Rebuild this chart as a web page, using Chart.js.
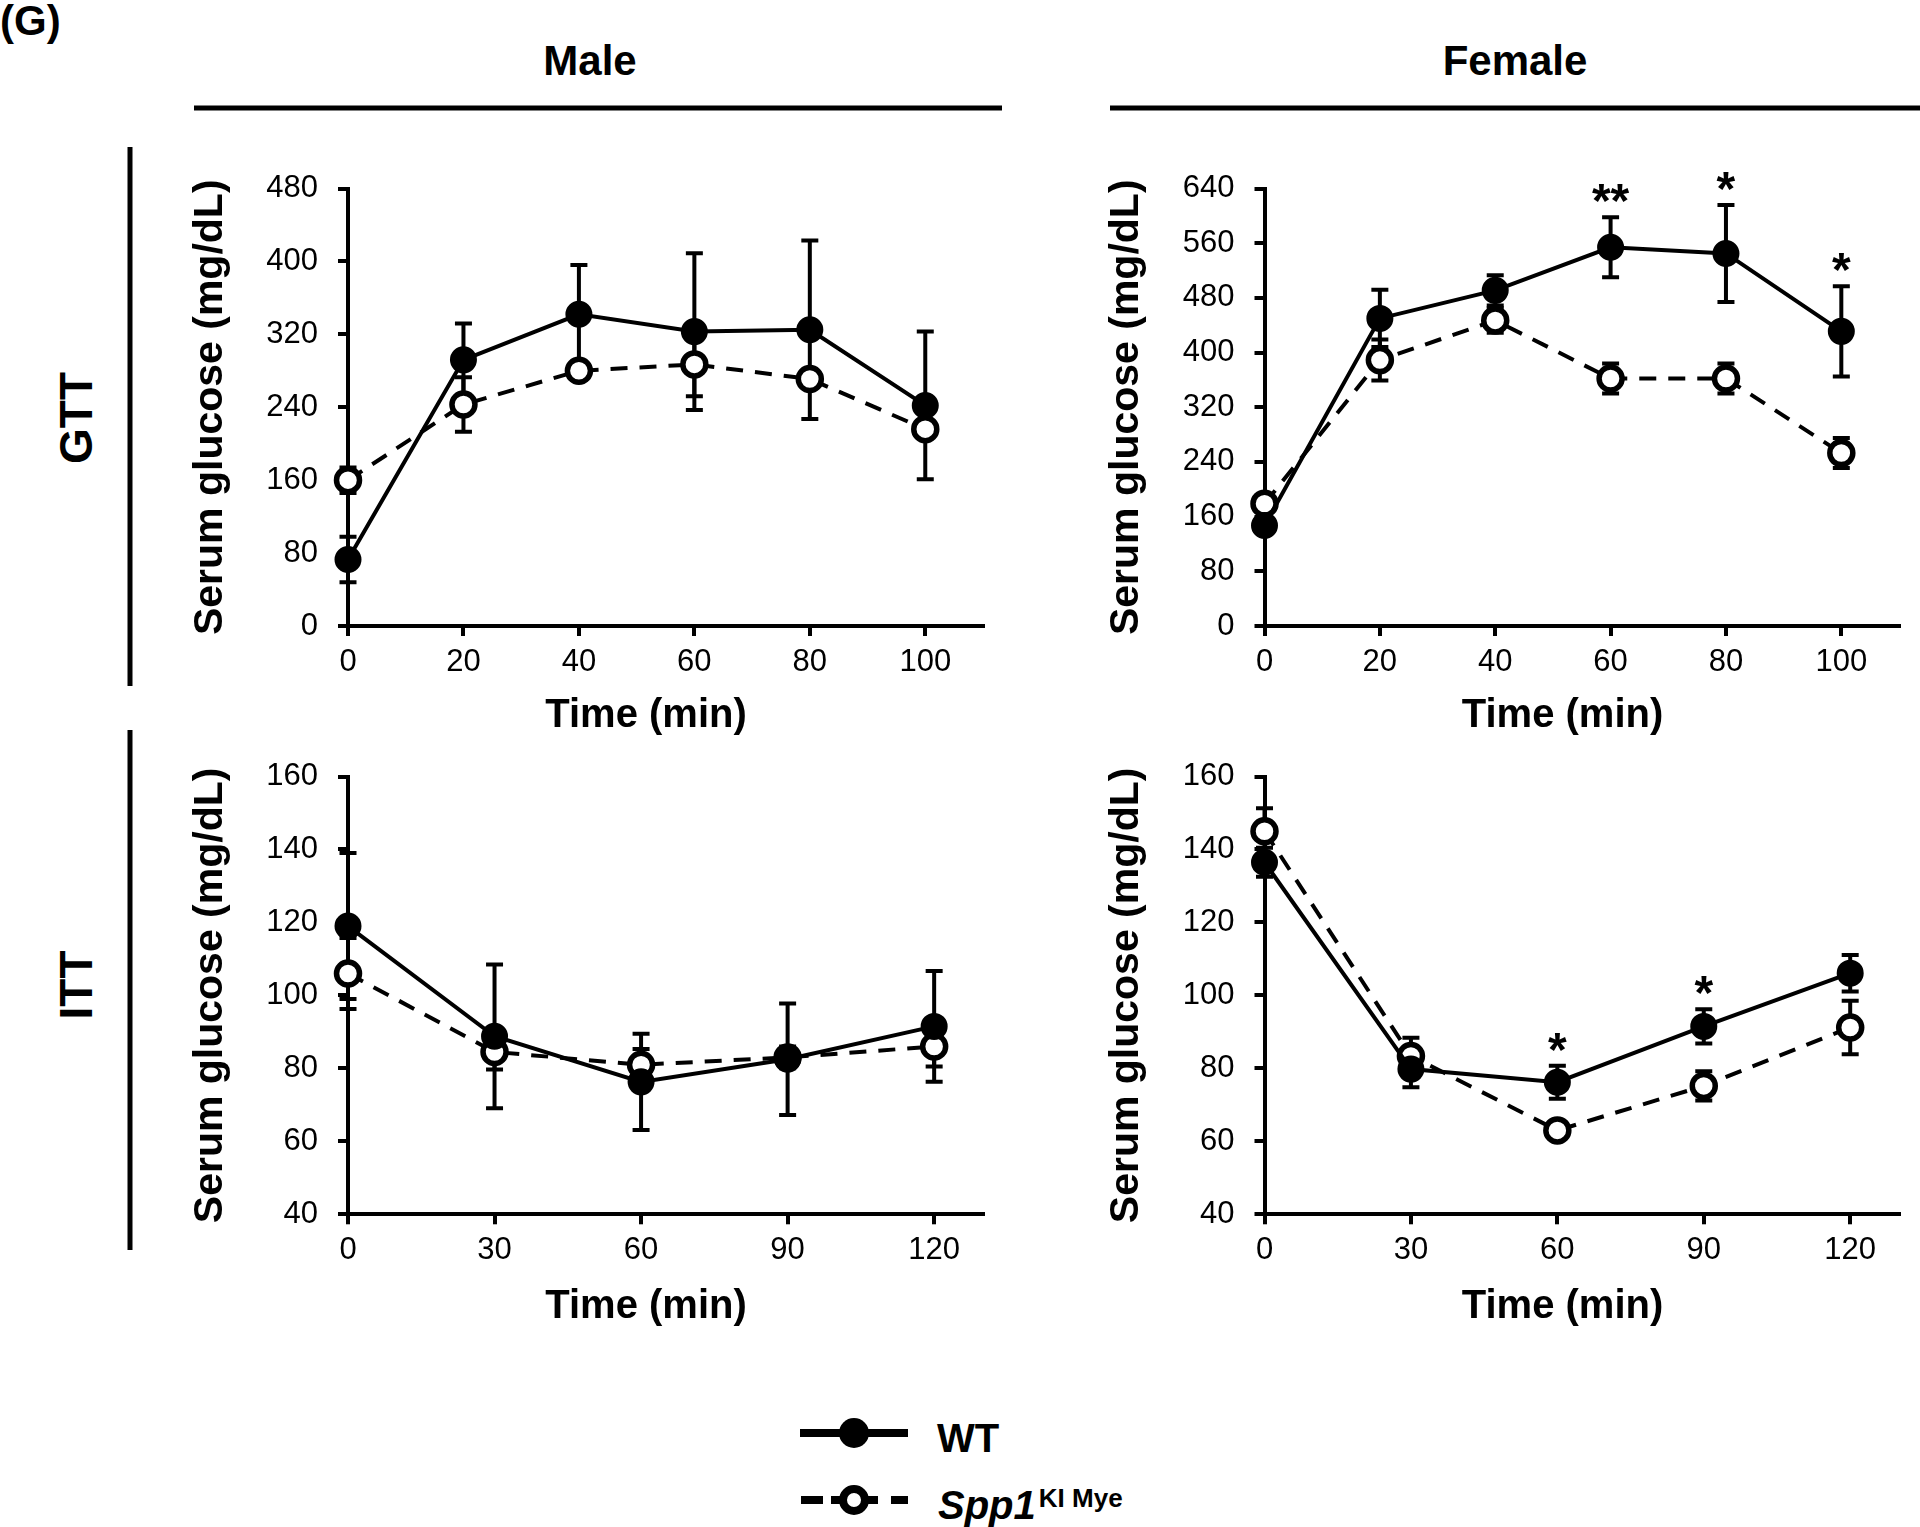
<!DOCTYPE html>
<html>
<head>
<meta charset="utf-8">
<script src="https://cdn.jsdelivr.net/npm/chart.js@4.4.1/dist/chart.umd.min.js"></script>
<style>
html,body{margin:0;padding:0;background:#fff;}
body{width:1920px;height:1527px;position:relative;overflow:hidden;font-family:"Liberation Sans",Arial,sans-serif;}
canvas{position:absolute;}
svg{position:absolute;left:0;top:0;}
</style>
</head>
<body>
<svg width="1920" height="1527" font-family="Liberation Sans, Arial, sans-serif" fill="#000">
  <text x="0" y="35" font-size="42" font-weight="bold">(G)</text>
  <text x="590" y="75" font-size="42" font-weight="bold" text-anchor="middle">Male</text>
  <text x="1515" y="75" font-size="42" font-weight="bold" text-anchor="middle">Female</text>
  <line x1="194" y1="108" x2="1002" y2="108" stroke="#000" stroke-width="5"/>
  <line x1="1110" y1="108" x2="1920" y2="108" stroke="#000" stroke-width="5"/>
  <line x1="130" y1="147" x2="130" y2="686" stroke="#000" stroke-width="5"/>
  <line x1="130" y1="730" x2="130" y2="1250" stroke="#000" stroke-width="5"/>
  <text transform="translate(92,418) rotate(-90)" text-anchor="middle" font-size="46" font-weight="bold">GTT</text>
  <text transform="translate(92,985) rotate(-90)" text-anchor="middle" font-size="46" font-weight="bold">ITT</text>
  <!-- legend -->
  <line x1="800" y1="1433" x2="908" y2="1433" stroke="#000" stroke-width="8"/>
  <circle cx="854" cy="1433" r="15" fill="#000"/>
  <text x="937" y="1452" font-size="40" font-weight="bold">WT</text>
  <line x1="801" y1="1500" x2="823" y2="1500" stroke="#000" stroke-width="8"/>
  <line x1="831" y1="1500" x2="845" y2="1500" stroke="#000" stroke-width="8"/>
  <line x1="863" y1="1500" x2="878" y2="1500" stroke="#000" stroke-width="8"/>
  <line x1="891" y1="1500" x2="908" y2="1500" stroke="#000" stroke-width="8"/>
  <circle cx="854" cy="1500" r="11" fill="#fff" stroke="#000" stroke-width="8"/>
  <text x="938" y="1519" font-size="40" font-weight="bold"><tspan font-style="italic">Spp1</tspan><tspan font-size="26" dx="3" dy="-12">KI Mye</tspan></text>
</svg>
<canvas id="maleGtt"></canvas>
<canvas id="femaleGtt"></canvas>
<canvas id="maleItt"></canvas>
<canvas id="femaleItt"></canvas>
<script>
// ---------------- DATA ----------------
const gttTime = [0, 20, 40, 60, 80, 100];
const ittTime = [0, 30, 60, 90, 120];
const gttXTicks = [0, 20, 40, 60, 80, 100];
const ittXTicks = [0, 30, 60, 90, 120];
const maleGttYTicks = [0, 80, 160, 240, 320, 400, 480];
const femaleGttYTicks = [0, 80, 160, 240, 320, 400, 480, 560, 640];
const ittYTicks = [40, 60, 80, 100, 120, 140, 160];

const seriesNames = ['WT', 'Spp1 KI Mye'];

// Male GTT
const maleGttWT = [73, 292, 342, 323, 325, 242];
const maleGttWTErr = [25, 40, 54, 86, 98, 81];
const maleGttKI = [160, 243, 280, 287, 271, 216];
const maleGttKIErr = [14, 30, 10, 35, 10, 10];
const maleGttSig = ['', '', '', '', '', ''];

// Female GTT
const femaleGttWT = [147, 450, 491, 554, 545, 431];
const femaleGttWTErr = [10, 42, 22, 44, 71, 66];
const femaleGttKI = [179, 389, 447, 362, 362, 253];
const femaleGttKIErr = [8, 30, 18, 22, 22, 22];
const femaleGttSig = ['', '', '', '**', '*', '*'];

// Male ITT
const maleIttWT = [119, 88.8, 76.3, 82.5, 91.5];
const maleIttWTErr = [20, 19.7, 13.2, 15.3, 15.2];
const maleIttKI = [106, 84.5, 81, 83, 86];
const maleIttKIErr = [9.7, 4.8, 4.3, 3, 5.5];
const maleIttSig = ['', '', '', '', ''];

// Female ITT
const femaleIttWT = [136.5, 79.8, 76.2, 91.5, 106.1];
const femaleIttWTErr = [4, 5, 4.5, 4.7, 5];
const femaleIttKI = [145, 83.4, 63, 75.2, 91.2];
const femaleIttKIErr = [6.3, 5, 2, 4, 7.3];
const femaleIttSig = ['', '', '*', '*', ''];

// ---------------- DRAWING ----------------
const FAM = "'Liberation Sans', Arial, sans-serif";
Chart.defaults.font.family = FAM;
Chart.defaults.color = '#000';

const errorBarPlugin = {
  id: 'errorBars',
  beforeDatasetsDraw(chart) {
    const {ctx} = chart;
    const xs = chart.scales.x, ys = chart.scales.y;
    ctx.save();
    ctx.strokeStyle = '#000';
    ctx.lineWidth = 4;
    ctx.lineCap = 'butt';
    chart.data.datasets.forEach(ds => {
      (ds.errors || []).forEach((e, i) => {
        const p = ds.data[i];
        const px = xs.getPixelForValue(p.x);
        const yT = ys.getPixelForValue(p.y + e);
        const yB = ys.getPixelForValue(p.y - e);
        ctx.beginPath();
        ctx.moveTo(px, yT); ctx.lineTo(px, yB);
        ctx.moveTo(px - 8.5, yT); ctx.lineTo(px + 8.5, yT);
        ctx.moveTo(px - 8.5, yB); ctx.lineTo(px + 8.5, yB);
        ctx.stroke();
      });
    });
    ctx.restore();
  }
};

const annotPlugin = {
  id: 'annot',
  afterDraw(chart, args, opts) {
    const {ctx, chartArea} = chart;
    const xs = chart.scales.x, ys = chart.scales.y;
    ctx.save();
    ctx.fillStyle = '#000';
    // significance stars above WT error bar
    const ds = chart.data.datasets[0];
    ctx.font = 'bold 48px ' + FAM;
    ctx.textAlign = 'center';
    ctx.textBaseline = 'alphabetic';
    (opts.sig || []).forEach((s, i) => {
      if (!s) return;
      const p = ds.data[i];
      const px = xs.getPixelForValue(p.x);
      const capY = ys.getPixelForValue(p.y + ds.errors[i]);
      ctx.fillText(s, px, capY - 27 + 27);
    });
    // x axis title
    ctx.font = 'bold 40px ' + FAM;
    ctx.fillText('Time (min)', chartArea.left + 298, chartArea.bottom + opts.titleOffset);
    ctx.restore();
  }
};

function makePanel(id, g, time, wt, wtErr, ki, kiErr, xTicks, yTicks, xMax, sig, titleOffset) {
  const cv = document.getElementById(id);
  const cx = Math.floor(g.L - 200);
  const cy = Math.floor(g.T - 70);
  const w = Math.ceil(g.R + 15 - cx);
  const h = Math.ceil(g.B + 125 - cy);
  cv.width = w; cv.height = h;
  cv.style.left = cx + 'px'; cv.style.top = cy + 'px';
  cv.style.width = w + 'px'; cv.style.height = h + 'px';
  const padTop = g.T - cy;
  const padRight = cx + w - g.R;
  const yAxisW = g.L - cx;
  const xAxisH = cy + h - g.B;
  const axisCommon = {
    grid: {drawOnChartArea: false, drawTicks: true, tickLength: 10, lineWidth: 4, color: '#000'},
    border: {display: true, width: 4, color: '#000'},
  };
  return new Chart(cv, {
    type: 'line',
    data: {
      datasets: [
        {
          label: seriesNames[0],
          data: time.map((t, i) => ({x: t, y: wt[i]})),
          errors: wtErr,
          borderColor: '#000', borderWidth: 4, tension: 0,
          pointRadius: 12, pointBorderWidth: 3,
          pointBackgroundColor: '#000', pointBorderColor: '#000',
          clip: false
        },
        {
          label: seriesNames[1],
          data: time.map((t, i) => ({x: t, y: ki[i]})),
          errors: kiErr,
          borderColor: '#000', borderWidth: 4, borderDash: [17, 12], tension: 0,
          pointRadius: 11.5, pointBorderWidth: 5.5,
          pointBackgroundColor: '#fff', pointBorderColor: '#000',
          clip: false
        }
      ]
    },
    options: {
      responsive: false,
      animation: false,
      devicePixelRatio: 1,
      events: [],
      layout: {padding: {left: 0, top: padTop, right: padRight, bottom: 0}},
      plugins: {
        legend: {display: false},
        tooltip: {enabled: false},
        annot: {sig: sig, titleOffset: titleOffset}
      },
      scales: {
        x: Object.assign({}, axisCommon, {
          type: 'linear', min: 0, max: xMax,
          afterFit: s => { s.height = xAxisH; },
          afterBuildTicks: s => { s.ticks = xTicks.map(v => ({value: v})); },
          ticks: {color: '#000', font: {size: 31}, padding: 8, maxRotation: 0, autoSkip: false}
        }),
        y: Object.assign({}, axisCommon, {
          type: 'linear', min: yTicks[0], max: yTicks[yTicks.length - 1],
          afterFit: s => { s.width = yAxisW; },
          afterBuildTicks: s => { s.ticks = yTicks.map(v => ({value: v})); },
          ticks: {color: '#000', font: {size: 31}, padding: 20, autoSkip: false},
          title: {display: true, text: 'Serum glucose (mg/dL)', color: '#000',
                  font: {size: 41, weight: 'bold'}, padding: {top: 38, bottom: 0}}
        })
      }
    },
    plugins: [errorBarPlugin, annotPlugin]
  });
}

makePanel('maleGtt', {L: 348, T: 188.5, R: 985, B: 626}, gttTime,
  maleGttWT, maleGttWTErr, maleGttKI, maleGttKIErr, gttXTicks, maleGttYTicks, 110, maleGttSig, 101);
makePanel('femaleGtt', {L: 1264.5, T: 188.5, R: 1901, B: 626}, gttTime,
  femaleGttWT, femaleGttWTErr, femaleGttKI, femaleGttKIErr, gttXTicks, femaleGttYTicks, 110, femaleGttSig, 101);
makePanel('maleItt', {L: 348, T: 776.5, R: 985, B: 1214.3}, ittTime,
  maleIttWT, maleIttWTErr, maleIttKI, maleIttKIErr, ittXTicks, ittYTicks, 130, maleIttSig, 104);
makePanel('femaleItt', {L: 1264.5, T: 776.5, R: 1901, B: 1214.3}, ittTime,
  femaleIttWT, femaleIttWTErr, femaleIttKI, femaleIttKIErr, ittXTicks, ittYTicks, 130, femaleIttSig, 104);
</script>
</body>
</html>
